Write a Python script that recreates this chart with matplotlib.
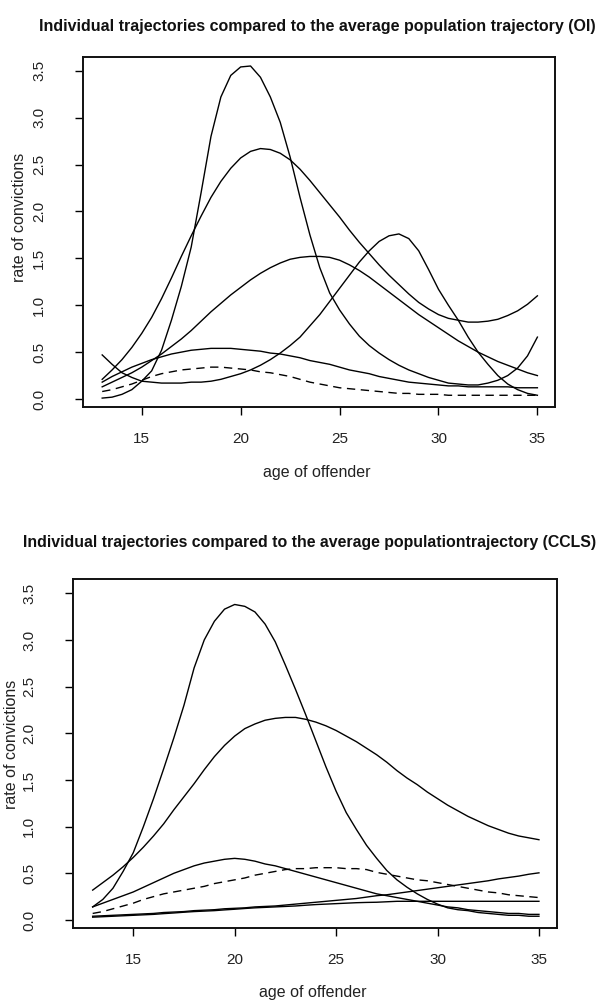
import matplotlib
matplotlib.use("Agg")
import matplotlib.pyplot as plt

plt.rcParams['font.family'] = ['Liberation Sans', 'DejaVu Sans']

# ---------------- data ----------------
ages = [13.0, 13.5, 14.0, 14.5, 15.0, 15.5, 16.0, 16.5, 17.0, 17.5, 18.0, 18.5,
        19.0, 19.5, 20.0, 20.5, 21.0, 21.5, 22.0, 22.5, 23.0, 23.5, 24.0, 24.5,
        25.0, 25.5, 26.0, 26.5, 27.0, 27.5, 28.0, 28.5, 29.0, 29.5, 30.0, 30.5,
        31.0, 31.5, 32.0, 32.5, 33.0, 33.5, 34.0, 34.5, 35.0]

# OI panel
oi_tall = [0.01, 0.02, 0.05, 0.10, 0.19, 0.30, 0.52, 0.84, 1.20, 1.62, 2.20, 2.80,
           3.22, 3.45, 3.54, 3.55, 3.43, 3.22, 2.95, 2.58, 2.15, 1.75, 1.40, 1.13,
           0.95, 0.80, 0.67, 0.57, 0.49, 0.42, 0.36, 0.31, 0.27, 0.23, 0.20, 0.17,
           0.16, 0.15, 0.15, 0.17, 0.20, 0.25, 0.33, 0.46, 0.66]
oi_wide = [0.21, 0.31, 0.42, 0.55, 0.70, 0.87, 1.07, 1.29, 1.52, 1.74, 1.95, 2.15,
           2.32, 2.46, 2.57, 2.64, 2.67, 2.66, 2.62, 2.55, 2.45, 2.33, 2.20, 2.07,
           1.94, 1.80, 1.67, 1.55, 1.43, 1.32, 1.22, 1.12, 1.03, 0.96, 0.90, 0.86,
           0.84, 0.82, 0.82, 0.83, 0.85, 0.89, 0.94, 1.01, 1.10]
oi_mid = [0.13, 0.18, 0.23, 0.28, 0.34, 0.41, 0.48, 0.56, 0.64, 0.73, 0.83, 0.93,
          1.02, 1.11, 1.19, 1.27, 1.34, 1.40, 1.45, 1.49, 1.51, 1.52, 1.52, 1.51,
          1.48, 1.43, 1.37, 1.30, 1.22, 1.14, 1.06, 0.98, 0.90, 0.83, 0.76, 0.69,
          0.62, 0.56, 0.50, 0.45, 0.40, 0.36, 0.32, 0.28, 0.25]
oi_low = [0.18, 0.24, 0.29, 0.34, 0.38, 0.42, 0.45, 0.48, 0.50, 0.52, 0.53, 0.54,
          0.54, 0.54, 0.53, 0.52, 0.51, 0.49, 0.48, 0.46, 0.44, 0.41, 0.39, 0.37,
          0.34, 0.31, 0.29, 0.27, 0.24, 0.22, 0.20, 0.18, 0.17, 0.16, 0.15, 0.14,
          0.14, 0.13, 0.13, 0.13, 0.13, 0.13, 0.12, 0.12, 0.12]
oi_late = [0.47, 0.37, 0.28, 0.23, 0.19, 0.18, 0.17, 0.17, 0.17, 0.18, 0.18, 0.19,
           0.21, 0.24, 0.27, 0.31, 0.36, 0.42, 0.49, 0.57, 0.66, 0.78, 0.90, 1.04,
           1.18, 1.32, 1.46, 1.58, 1.68, 1.74, 1.76, 1.71, 1.58, 1.38, 1.17, 1.00,
           0.84, 0.66, 0.50, 0.37, 0.25, 0.16, 0.10, 0.06, 0.04]
oi_avg = [0.08, 0.10, 0.13, 0.16, 0.20, 0.24, 0.27, 0.29, 0.31, 0.32, 0.33, 0.34,
          0.34, 0.33, 0.32, 0.31, 0.29, 0.28, 0.26, 0.24, 0.21, 0.18, 0.16, 0.14,
          0.12, 0.11, 0.10, 0.09, 0.08, 0.07, 0.06, 0.06, 0.05, 0.05, 0.05, 0.04,
          0.04, 0.04, 0.04, 0.04, 0.04, 0.04, 0.04, 0.04, 0.04]

# CCLS panel
cc_tall = [0.14, 0.22, 0.34, 0.52, 0.72, 1.00, 1.30, 1.62, 1.95, 2.30, 2.70, 3.00,
           3.20, 3.33, 3.38, 3.36, 3.30, 3.17, 2.98, 2.73, 2.47, 2.20, 1.92, 1.64,
           1.38, 1.15, 0.97, 0.80, 0.66, 0.53, 0.43, 0.35, 0.28, 0.22, 0.17, 0.13,
           0.11, 0.10, 0.08, 0.07, 0.06, 0.05, 0.05, 0.04, 0.04]
cc_wide = [0.32, 0.40, 0.48, 0.57, 0.67, 0.78, 0.90, 1.03, 1.18, 1.32, 1.46, 1.61,
           1.75, 1.87, 1.97, 2.05, 2.10, 2.14, 2.16, 2.17, 2.17, 2.15, 2.12, 2.08,
           2.03, 1.97, 1.91, 1.84, 1.77, 1.69, 1.60, 1.52, 1.45, 1.37, 1.30, 1.23,
           1.17, 1.11, 1.06, 1.01, 0.97, 0.93, 0.90, 0.88, 0.86]
cc_mid = [0.14, 0.18, 0.22, 0.26, 0.30, 0.35, 0.40, 0.45, 0.50, 0.54, 0.58, 0.61,
          0.63, 0.65, 0.66, 0.65, 0.63, 0.60, 0.58, 0.55, 0.52, 0.49, 0.46, 0.43,
          0.40, 0.37, 0.34, 0.31, 0.28, 0.26, 0.24, 0.22, 0.20, 0.18, 0.16, 0.14,
          0.13, 0.11, 0.10, 0.09, 0.08, 0.07, 0.07, 0.06, 0.06]
cc_rise = [0.040, 0.045, 0.050, 0.055, 0.060, 0.065, 0.070, 0.080, 0.085, 0.090, 0.100, 0.105,
           0.110, 0.120, 0.125, 0.130, 0.140, 0.145, 0.150, 0.160, 0.170, 0.180, 0.190, 0.200,
           0.210, 0.220, 0.230, 0.245, 0.260, 0.270, 0.285, 0.300, 0.315, 0.330, 0.345, 0.360,
           0.375, 0.390, 0.405, 0.420, 0.440, 0.455, 0.470, 0.490, 0.505]
cc_flat = [0.030, 0.035, 0.040, 0.045, 0.050, 0.055, 0.060, 0.068, 0.075, 0.083, 0.090, 0.095,
           0.100, 0.108, 0.115, 0.123, 0.130, 0.135, 0.140, 0.145, 0.150, 0.158, 0.165, 0.170,
           0.175, 0.180, 0.185, 0.188, 0.190, 0.195, 0.200, 0.200, 0.200, 0.200, 0.200, 0.200,
           0.200, 0.200, 0.200, 0.200, 0.200, 0.200, 0.200, 0.200, 0.200]
cc_avg = [0.07, 0.09, 0.12, 0.15, 0.18, 0.22, 0.25, 0.28, 0.30, 0.32, 0.34, 0.36,
          0.39, 0.41, 0.43, 0.45, 0.48, 0.50, 0.52, 0.54, 0.55, 0.55, 0.56, 0.56,
          0.56, 0.55, 0.55, 0.54, 0.51, 0.49, 0.47, 0.45, 0.43, 0.42, 0.40, 0.38,
          0.36, 0.34, 0.32, 0.30, 0.29, 0.27, 0.26, 0.25, 0.24]

x_ticks = [15, 20, 25, 30, 35]
y_ticks = [0.0, 0.5, 1.0, 1.5, 2.0, 2.5, 3.0, 3.5]
y_ticklabels = ["0.0", "0.5", "1.0", "1.5", "2.0", "2.5", "3.0", "3.5"]

title_oi = "Individual trajectories compared to the average population trajectory (OI)"
title_cc = "Individual trajectories compared to the average populationtrajectory (CCLS)"
xlab = "age of offender"
ylab = "rate of convictions"

# ---------------- figure ----------------
W, H = 603, 1001
fig = plt.figure(figsize=(W / 100, H / 100), dpi=100)
fig.patch.set_facecolor("white")


def rect(l, r, t, b):
    return [l / W, 1 - b / H, (r - l) / W, (b - t) / H]


TXT = "#222222"


def panel(box, ylim, solids, avg):
    ax = fig.add_axes(rect(*box))
    for s in solids:
        ax.plot(ages, s, color="black", lw=1.0, solid_joinstyle="round")
    ln, = ax.plot(ages, avg, color="black", lw=1.0)
    ln.set_dashes([6, 4])
    ax.set_xlim(12.03, 35.89)
    ax.set_ylim(*ylim)
    ax.set_xticks(x_ticks)
    ax.set_xticklabels([str(t) for t in x_ticks])
    ax.set_yticks(y_ticks)
    ax.set_yticklabels(y_ticklabels, rotation=90, va="center")
    ax.tick_params(axis="x", length=6, width=1.0, pad=12, labelsize=11, colors="black", labelcolor=TXT)
    ax.tick_params(axis="y", length=5.5, width=1.0, pad=21, labelsize=11, colors="black", labelcolor=TXT)
    for sp in ax.spines.values():
        sp.set_linewidth(1.4)
        sp.set_color("#111111")
    return ax


ax1 = panel((83, 555, 57, 407), (-0.085, 3.646),
            [oi_tall, oi_wide, oi_mid, oi_low, oi_late], oi_avg)
ax2 = panel((73, 557, 579, 928), (-0.086, 3.653),
            [cc_tall, cc_wide, cc_mid, cc_rise, cc_flat], cc_avg)


def ftext(x, y, s, **kw):
    fig.text(x / W, 1 - y / H, s, ha="center", va="center", **kw)


ftext(317, 27, title_oi, fontsize=11.5, fontweight="bold", color="#111111")
ftext(310, 543, title_cc, fontsize=11.4, fontweight="bold", color="#111111")
ftext(317, 473, xlab, fontsize=11.5, color=TXT)
ftext(313, 992, xlab, fontsize=11.5, color=TXT)
ftext(20, 217, ylab, fontsize=11.5, color=TXT, rotation=90)
ftext(12, 744, ylab, fontsize=11.5, color=TXT, rotation=90)

fig.savefig("out.png", dpi=100, facecolor="white")
